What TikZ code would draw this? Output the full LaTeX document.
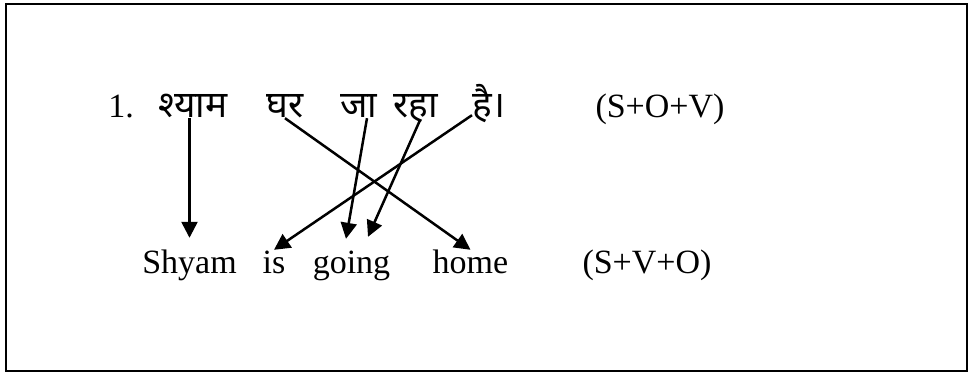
\documentclass[tikz,border=0pt]{standalone}
\usepackage{fontspec}
\setmainfont{Liberation Serif}
\newfontfamily\hindifont[Script=Devanagari]{Noto Sans}
\usetikzlibrary{arrows.meta}

\begin{document}
\begin{tikzpicture}[
  x=1pt, y=1pt,
  hin/.style={font=\fontsize{37}{44}\selectfont\hindifont, inner sep=0pt, text depth=0pt, anchor=base},
  eng/.style={font=\fontsize{34}{40}\selectfont, inner sep=0pt, text height=24pt, text depth=0pt, anchor=base},
  map/.style={-{Triangle[length=16pt,width=16pt]}, line width=2.5pt}
]
\useasboundingbox (0,0) rectangle (969,372);
\draw[line width=2pt] (6,1) rectangle (967,368);

% Hindi sentence
\node[eng] (num) at (121,254) {1.};
\node[hin] (shyamH) at (193,254) {श्याम};
\node[hin] (ghar) at (285,254) {घर};
\node[hin] (ja) at (359,254) {जा};
\node[hin] (raha) at (416,254) {रहा};
\node[hin] (hai) at (489,254) {है।};
\node[eng] (sov) at (660,254) {(S+O+V)};

% English sentence
\node[eng] (shyamE) at (189.5,98) {Shyam};
\node[eng] (is) at (274,98) {is};
\node[eng] (going) at (351.5,98) {going};
\node[eng] (home) at (470.5,98) {home};
\node[eng] (svo) at (647,98) {(S+V+O)};

\draw[map] (shyamH.south -| shyamE) -- ([yshift=12pt]shyamE.north);
\draw[map] (ghar.south) -- (home.north);
\draw[map] ([xshift=8pt]ja.south) -- ([xshift=-5.5pt,yshift=11pt]going.north);
\draw[map] ([xshift=4pt,yshift=-2pt]raha.south) -- ([xshift=16.5pt,yshift=13pt]going.north);
\draw[map] ([yshift=3pt]hai.south west) -- (is.north);
\end{tikzpicture}
\end{document}
